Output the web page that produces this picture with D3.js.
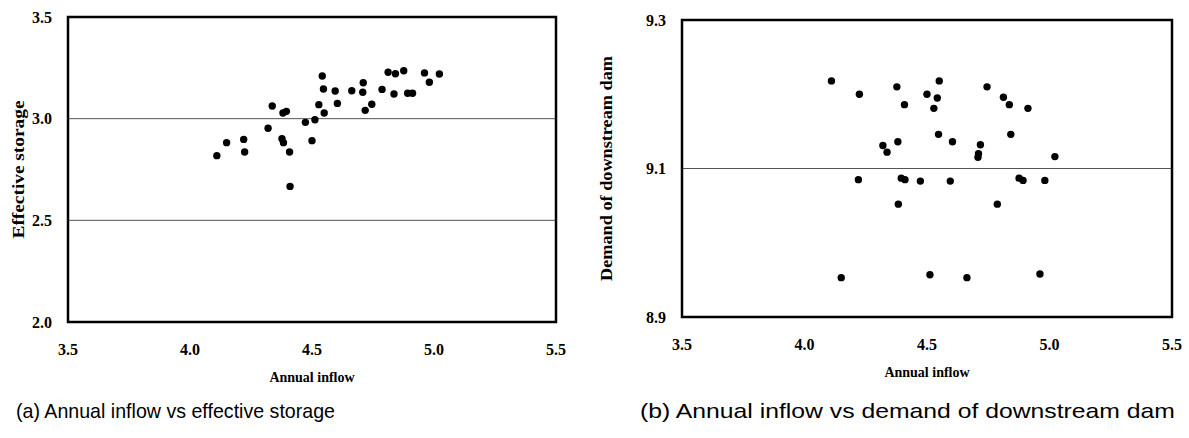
<!DOCTYPE html>
<html>
<head>
<meta charset="utf-8">
<script src="https://cdn.jsdelivr.net/npm/d3@7"></script>
<style>
    body { margin: 0; background: #fff; }
    .axis-title, .tick-label { font-family: "Liberation Serif", "Times New Roman", serif; font-weight: bold; fill: #000; }
    .tick-label { font-size: 16px; }
    .caption { font-family: "Liberation Sans Narrow", "Liberation Sans", Arial, sans-serif; font-size: 21px; fill: #000; }
</style>
</head>
<body>
<div id="chart"></div>
<script>
// annual inflow, shared by both panels (same years)
const annualInflow = [4.11, 4.15, 4.22, 4.224, 4.32, 4.337, 4.377, 4.381, 4.383, 4.395, 4.408, 4.41,
    4.473, 4.50, 4.512, 4.528, 4.542, 4.547, 4.55, 4.595, 4.604, 4.663, 4.708, 4.71,
    4.718, 4.745, 4.787, 4.812, 4.836, 4.842, 4.876, 4.892, 4.912, 4.961, 4.981, 5.022];
// (a) effective storage
const effectiveStorage = [2.818, 2.882, 2.898, 2.836, 2.953, 3.062, 2.901, 3.028, 2.882, 3.036, 2.836, 2.667,
    2.982, 2.892, 2.995, 3.069, 3.210, 3.146, 3.028, 3.136, 3.075, 3.137, 3.130, 3.177,
    3.041, 3.071, 3.144, 3.228, 3.121, 3.221, 3.236, 3.125, 3.125, 3.225, 3.179, 3.220];
// (b) demand of downstream dam
const downstreamDemand = [9.218, 8.953, 9.085, 9.200, 9.131, 9.122, 9.210, 9.136, 9.052, 9.087, 9.186, 9.085,
    9.083, 9.200, 8.957, 9.181, 9.195, 9.146, 9.218, 9.083, 9.136, 8.953, 9.115, 9.120,
    9.132, 9.210, 9.052, 9.196, 9.186, 9.146, 9.087, 9.084, 9.181, 8.958, 9.084, 9.116];

const xTicks = [3.5, 4.0, 4.5, 5.0, 5.5];
const yTicksA = [2.0, 2.5, 3.0, 3.5];
const yTicksB = [8.9, 9.1, 9.3];
const xTitle = "Annual inflow";
const yTitleA = "Effective storage";
const yTitleB = "Demand of downstream dam";
const captionA = "(a) Annual inflow vs effective storage";
const captionB = "(b) Annual inflow vs demand of downstream dam";

const width = 1189, height = 438;
const fmt = d3.format(".1f");

const svg = d3.select("#chart").append("svg")
    .attr("width", width)
    .attr("height", height);

const panels = [
    {
        box: { left: 68, right: 556, top: 17, bottom: 322 },
        yValues: effectiveStorage, yTicks: yTicksA, yTitle: yTitleA, yTitleLen: 138,
        yTitleX: 18, xTitleY: 382, caption: captionA, capX: 16, capLen: 319
    },
    {
        box: { left: 682, right: 1172, top: 20, bottom: 317 },
        yValues: downstreamDemand, yTicks: yTicksB, yTitle: yTitleB, yTitleLen: 225,
        yTitleX: 606, xTitleY: 377, caption: captionB, capX: 640, capLen: 535
    }
];

panels.forEach(drawPanel);

function drawPanel(p) {
    const b = p.box;
    const x = d3.scaleLinear()
        .domain(d3.extent(xTicks))
        .range([b.left, b.right]);
    const y = d3.scaleLinear()
        .domain(d3.extent(p.yTicks))
        .range([b.bottom, b.top]);

    const g = svg.append("g");

    // horizontal grid lines (inner ticks only)
    g.selectAll("line.grid")
        .data(p.yTicks.slice(1, -1)).enter()
        .append("line").attr("class", "grid")
        .attr("x1", b.left).attr("x2", b.right)
        .attr("y1", d => y(d)).attr("y2", d => y(d))
        .attr("stroke", "#555")
        .attr("stroke-width", 1);

    // tick labels
    g.selectAll("text.xtick")
        .data(xTicks).enter()
        .append("text").attr("class", "tick-label xtick")
        .attr("x", d => x(d))
        .attr("y", b.bottom + 33)
        .attr("text-anchor", "middle")
        .text(fmt);

    g.selectAll("text.ytick")
        .data(p.yTicks).enter()
        .append("text").attr("class", "tick-label ytick")
        .attr("x", b.left - 16)
        .attr("y", d => y(d))
        .attr("dy", "0.35em")
        .attr("text-anchor", "end")
        .text(fmt);

    // frame
    g.append("rect")
        .attr("x", b.left).attr("y", b.top)
        .attr("width", b.right - b.left)
        .attr("height", b.bottom - b.top)
        .attr("fill", "none")
        .attr("stroke", "#000")
        .attr("stroke-width", 2.5);

    // points
    g.selectAll("circle")
        .data(annualInflow.map((v, i) => [v, p.yValues[i]])).enter()
        .append("circle")
        .attr("cx", d => x(d[0]))
        .attr("cy", d => y(d[1]))
        .attr("r", 3.7)
        .attr("fill", "#000");

    // titles
    g.append("text").attr("class", "axis-title")
        .attr("x", (b.left + b.right) / 2)
        .attr("y", p.xTitleY)
        .attr("text-anchor", "middle")
        .style("font-size", "14px")
        .text(xTitle);

    g.append("text").attr("class", "axis-title")
        .attr("transform", "translate(" + p.yTitleX + "," + (b.top + b.bottom) / 2 + ") rotate(-90)")
        .attr("text-anchor", "middle")
        .attr("dy", "0.35em")
        .attr("textLength", p.yTitleLen)
        .attr("lengthAdjust", "spacingAndGlyphs")
        .style("font-size", "16px")
        .text(p.yTitle);

    g.append("text").attr("class", "caption")
        .attr("x", p.capX)
        .attr("y", 418)
        .attr("textLength", p.capLen)
        .attr("lengthAdjust", "spacingAndGlyphs")
        .text(p.caption);
}
</script>
</body>
</html>
